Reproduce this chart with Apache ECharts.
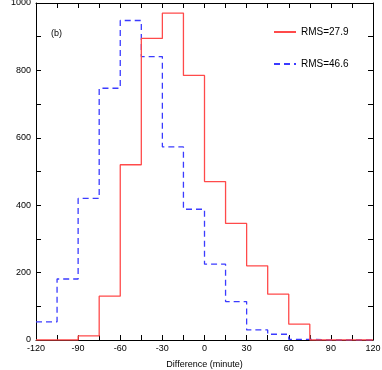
<!DOCTYPE html>
<html>
<head>
<meta charset="utf-8">
<script src="https://cdn.jsdelivr.net/npm/echarts@6/dist/echarts.min.js"></script>
<style>
	html, body { margin: 0; padding: 0; background: #fff; }
	#myChart { width: 382px; height: 370px; }
</style>
</head>
<body>
<div id="myChart"></div>
<script>
	// bin left edges (minute), bin width 15
	var binEdges = [-120, -105, -90, -75, -60, -45, -30, -15, 0, 15, 30, 45, 60, 75, 90, 105];
	var binEnd = 120;
	// RMS=27.9 (red, solid)
	var redCounts = [0, 0, 12, 130, 520, 895, 970, 785, 470, 346, 220, 136, 47, 0, 0, 0];
	// RMS=46.6 (blue, dashed)
	var blueCounts = [54, 181, 420, 747, 948, 841, 573, 388, 225, 114, 30, 17, 2, 0, 0, 0];
	var seriesNames = ['RMS=27.9', 'RMS=46.6'];

	function toSteps(counts) {
		var d = binEdges.map(function(x, i) { return [x, counts[i]]; });
		d.push([binEnd, counts[counts.length - 1]]);
		return d;
	}

	var font = 'Liberation Sans';
	var axisLine = { show: true, onZero: false, lineStyle: { color: '#000', width: 1 } };
	var tick = { show: true, inside: true, length: 5, lineStyle: { color: '#000', width: 1 } };
	var minor = { show: true, splitNumber: 2, length: 5, lineStyle: { color: '#000', width: 1 } };

	let myChart = echarts.init(document.getElementById('myChart'));
	var option = {
		animation: false,
		grid: { left: 36, right: 9, top: 3, bottom: 30, containLabel: false, outerBoundsMode: 'none' },
		legend: {
			orient: 'vertical',
			left: 268,
			top: 22,
			itemWidth: 22,
			itemHeight: 12,
			itemGap: 22,
			selectedMode: false,
			itemStyle: { opacity: 0 },
			textStyle: { fontFamily: font, fontSize: 10, color: '#000' },
			data: seriesNames
		},
		graphic: [{
			type: 'text',
			left: 51,
			top: 29,
			style: { text: '(b)', font: '9px ' + font, fill: '#000' }
		}],
		xAxis: [{
			type: 'value',
			min: -120,
			max: 120,
			interval: 30,
			name: 'Difference (minute)',
			nameLocation: 'middle',
			nameGap: 20,
			nameTextStyle: { fontFamily: font, fontSize: 9, color: '#000' },
			axisLine: axisLine,
			axisTick: tick,
			minorTick: minor,
			axisLabel: { fontFamily: font, fontSize: 9, color: '#000', margin: 4 },
			splitLine: { show: false }
		}, {
			type: 'value',
			position: 'top',
			min: -120,
			max: 120,
			interval: 30,
			axisLine: axisLine,
			axisTick: tick,
			minorTick: minor,
			axisLabel: { show: false },
			splitLine: { show: false }
		}],
		yAxis: [{
			type: 'value',
			min: 0,
			max: 1000,
			interval: 200,
			name: 'Number',
			nameLocation: 'middle',
			nameGap: 31,
			nameTextStyle: { fontFamily: 'Liberation Serif', fontWeight: 'bold', fontSize: 10, color: '#000' },
			axisLine: axisLine,
			axisTick: tick,
			minorTick: minor,
			axisLabel: { fontFamily: font, fontSize: 9, color: '#000', margin: 5, formatter: function(v) { return String(v); } },
			splitLine: { show: false }
		}, {
			type: 'value',
			position: 'right',
			min: 0,
			max: 1000,
			interval: 200,
			axisLine: axisLine,
			axisTick: tick,
			minorTick: minor,
			axisLabel: { show: false },
			splitLine: { show: false }
		}],
		series: [{
			name: seriesNames[1],
			type: 'line',
			step: 'end',
			symbol: 'none',
			data: toSteps(blueCounts),
			lineStyle: { color: '#3b3bff', width: 1.3, type: [6, 4] },
			itemStyle: { color: '#3b3bff' }
		}, {
			name: seriesNames[0],
			type: 'line',
			step: 'end',
			symbol: 'none',
			data: toSteps(redCounts),
			lineStyle: { color: '#ff4a4a', width: 1.3, type: 'solid' },
			itemStyle: { color: '#ff4a4a' }
		}]
	};
	myChart.setOption(option);
</script>
</body>
</html>
